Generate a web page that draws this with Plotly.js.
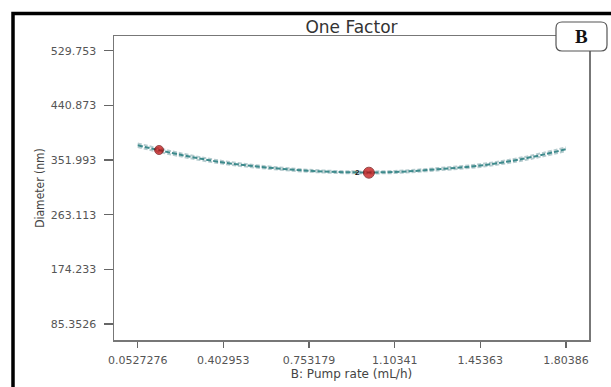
<!DOCTYPE html>
<html>
<head>
<meta charset="utf-8">
<script src="https://cdn.plot.ly/plotly-3.0.1.min.js"></script>
<style>
html,body{margin:0;padding:0;background:#fff;}
#chart{width:611px;height:387px;}
</style>
</head>
<body>
<div id="chart"></div>
<script>
// Data
const curveX = [0.0527276, 0.227840, 0.402953, 0.578066, 0.753179, 0.928294, 1.10341, 1.27852, 1.45363, 1.62875, 1.80386];
const curveY = [376, 360.5, 348, 340, 334.5, 332, 332.5, 337, 343, 354, 369.5];
const ciHalf = [3.0, 2.6, 2.2, 1.9, 1.7, 1.6, 1.7, 1.9, 2.2, 2.6, 3.0];
const pointX = [0.140, 0.998];
const pointY = [368.3, 331.4];
const pointSize = [9, 11];
const xTickVals = [0.0527276, 0.402953, 0.753179, 1.10341, 1.45363, 1.80386];
const xTickText = ["0.0527276", "0.402953", "0.753179", "1.10341", "1.45363", "1.80386"];
const yTickVals = [85.3526, 174.233, 263.113, 351.993, 440.873, 529.753];
const yTickText = ["85.3526", "174.233", "263.113", "351.993", "440.873", "529.753"];

const upper = curveY.map((v, i) => v + ciHalf[i]);
const lower = curveY.map((v, i) => v - ciHalf[i]);

// plot area in pixels
const L = 114, R = 589, T = 36, B = 340, W = 611, H = 387;
const pw = R - L, ph = B - T;
const px = x => (x - L) / pw;
const py = y => (B - y) / ph;

// rounded box for "B"
function roundRect(x0, y0, x1, y1, r) {
  const rx = r / pw, ry = r / ph;
  const a = px(x0), b = px(x1), top = py(y0), bot = py(y1);
  return `M ${a + rx},${top} L ${b - rx},${top} Q ${b},${top} ${b},${top - ry} ` +
         `L ${b},${bot + ry} Q ${b},${bot} ${b - rx},${bot} ` +
         `L ${a + rx},${bot} Q ${a},${bot} ${a},${bot + ry} ` +
         `L ${a},${top - ry} Q ${a},${top} ${a + rx},${top} Z`;
}

const traces = [
  {x: curveX, y: upper, mode: 'lines', line: {color: '#b5cbce', width: 2, shape: 'spline', dash: '4px,2px'}, hoverinfo: 'skip'},
  {x: curveX, y: lower, mode: 'lines', line: {color: '#b5cbce', width: 2, shape: 'spline', dash: '4px,2px'}, hoverinfo: 'skip'},
  {x: curveX, y: curveY, mode: 'lines', line: {color: '#3d8a8c', width: 2, shape: 'spline', dash: '5px,2px'}},
  {x: pointX, y: pointY, mode: 'markers', marker: {color: '#c00000', size: pointSize, line: {color: '#6a0000', width: 1}}}
];

const tickFont = {family: 'DejaVu Sans, sans-serif', size: 11, color: '#555'};

const layout = {
  width: W, height: H,
  margin: {l: L, r: W - R, t: T, b: H - B, pad: 0},
  paper_bgcolor: '#fff', plot_bgcolor: '#fff',
  showlegend: false,
  title: {text: 'One Factor', font: {family: 'DejaVu Sans, sans-serif', size: 17, color: '#333'},
          x: 0.5, xref: 'paper', xanchor: 'center', y: 1 - 27 / H, yref: 'container', yanchor: 'middle'},
  xaxis: {
    range: [-0.0442, 1.898], tickvals: xTickVals, ticktext: xTickText,
    showgrid: false, zeroline: false, showline: true, mirror: true,
    linecolor: '#777', linewidth: 1.5, ticks: 'outside', ticklen: 6, tickcolor: '#666', tickwidth: 1.2,
    tickfont: tickFont, ticklabelstandoff: 3,
    title: {text: 'B: Pump rate (mL/h)', font: {family: 'DejaVu Sans, sans-serif', size: 12, color: '#444'}, standoff: 2}
  },
  yaxis: {
    range: [59.3, 553.7], tickvals: yTickVals, ticktext: yTickText,
    showgrid: false, zeroline: false, showline: true, mirror: true,
    linecolor: '#777', linewidth: 1.5, ticks: 'outside', ticklen: 9, tickcolor: '#666', tickwidth: 1.2,
    tickfont: tickFont, ticklabelstandoff: 5,
    title: {text: 'Diameter (nm)', font: {family: 'DejaVu Sans Condensed, DejaVu Sans, sans-serif', size: 12, color: '#444'}, standoff: 3}
  },
  shapes: [
    {type: 'rect', xref: 'paper', yref: 'paper', x0: px(13), x1: px(640), y0: py(13.5), y1: py(420),
     line: {color: '#000', width: 3.5}, fillcolor: 'rgba(0,0,0,0)', layer: 'above'},
    {type: 'path', xref: 'paper', yref: 'paper', path: roundRect(556, 22, 607, 51, 6),
     line: {color: '#555', width: 1.2}, fillcolor: '#fff', layer: 'above'}
  ],
  annotations: [
    {xref: 'paper', yref: 'paper', x: px(581.5), y: py(37), text: '<b>B</b>', showarrow: false,
     font: {family: 'Liberation Serif, DejaVu Serif, serif', size: 19, color: '#111'}, xanchor: 'center', yanchor: 'middle'},
    {xref: 'x', yref: 'y', x: 0.953, y: 331.8, text: '<b>2</b>', showarrow: false,
     font: {family: 'Liberation Sans, sans-serif', size: 8, color: '#111'}, xanchor: 'center', yanchor: 'middle'}
  ]
};

Plotly.newPlot('chart', traces, layout, {displayModeBar: false, staticPlot: true});
</script>
</body>
</html>
